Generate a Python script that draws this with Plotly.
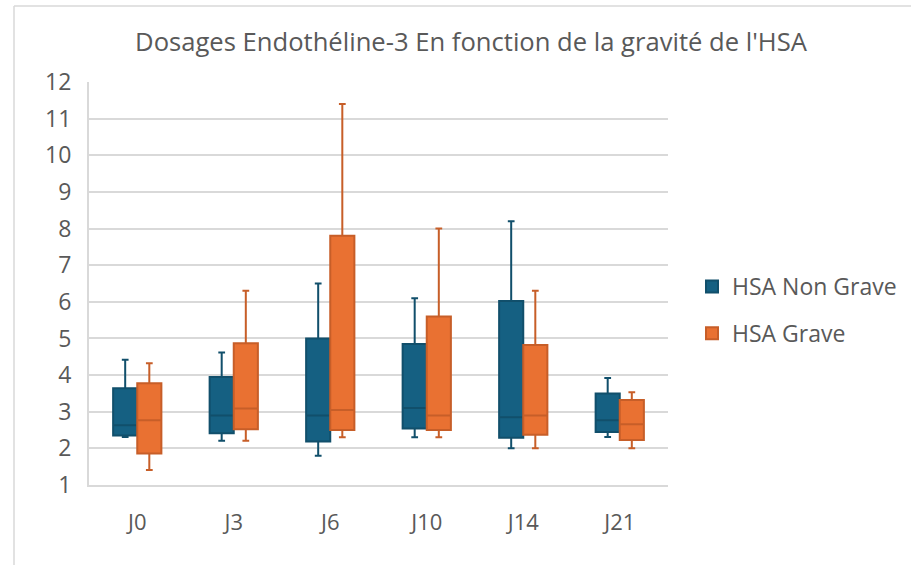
import plotly.graph_objects as go

categories = ["J0", "J3", "J6", "J10", "J14", "J21"]

# HSA Non Grave
ng_low = [2.31, 2.21, 1.80, 2.30, 2.00, 2.31]
ng_q1 = [2.35, 2.41, 2.19, 2.54, 2.29, 2.45]
ng_med = [2.63, 2.90, 2.90, 3.10, 2.85, 2.77]
ng_q3 = [3.64, 3.95, 5.00, 4.85, 6.02, 3.50]
ng_high = [4.42, 4.62, 6.50, 6.10, 8.20, 3.92]

# HSA Grave
g_low = [1.41, 2.21, 2.30, 2.30, 2.00, 2.00]
g_q1 = [1.86, 2.52, 2.50, 2.50, 2.37, 2.23]
g_med = [2.77, 3.09, 3.05, 2.90, 2.90, 2.66]
g_q3 = [3.78, 4.87, 7.80, 5.60, 4.82, 3.32]
g_high = [4.32, 6.30, 11.40, 8.00, 6.30, 3.53]

y_ticks = list(range(1, 13))

FONT = "Open Sans"
TXT = "#595959"
GRID = "#D9D9D9"

fig = go.Figure()
fig.add_trace(go.Box(
    name="HSA Non Grave", x=categories,
    lowerfence=ng_low, q1=ng_q1, median=ng_med, q3=ng_q3, upperfence=ng_high,
    fillcolor="#156082", line=dict(color="#114F6B", width=2),
    whiskerwidth=0.28, boxpoints=False, legendgroup="a",
))
fig.add_trace(go.Box(
    name="HSA Grave", x=categories,
    lowerfence=g_low, q1=g_q1, median=g_med, q3=g_q3, upperfence=g_high,
    fillcolor="#E97132", line=dict(color="#C75E28", width=2),
    whiskerwidth=0.28, boxpoints=False, legendgroup="b",
))

L, T, W, H = 89, 82, 579, 403

fig.update_layout(
    width=911, height=565,
    margin=dict(l=L, r=911 - L - W, t=T, b=565 - T - H, autoexpand=False),
    paper_bgcolor="white", plot_bgcolor="white",
    boxmode="group", boxgap=0.5, boxgroupgap=0.0,
    font=dict(family=FONT, color=TXT, size=22),
    title=dict(text="Dosages Endothéline-3 En fonction de la gravité de l'HSA",
               x=471 / 911, xref="container", xanchor="center",
               y=1 - 42 / 565, yref="container", yanchor="middle",
               font=dict(family=FONT, size=25.6, color=TXT)),
    showlegend=True,
    legend=dict(x=1 + 24 / W, xanchor="left", y=(485 - 310) / 403, yanchor="middle",
                traceorder="grouped", tracegroupgap=14,
                font=dict(family=FONT, size=23, color=TXT),
                bgcolor="rgba(0,0,0,0)"),
    xaxis=dict(showgrid=False, showline=True, linecolor=GRID, linewidth=2,
               ticks="", tickfont=dict(size=22, color=TXT),
               ticklabelstandoff=17, automargin=False, fixedrange=True),
    yaxis=dict(range=[1, 12], tickvals=y_ticks, showgrid=True, gridcolor=GRID,
               gridwidth=2, showline=True, linecolor=GRID, linewidth=2,
               zeroline=False, ticks="", tickfont=dict(size=23, color=TXT),
               ticklabelstandoff=11, automargin=False),
    shapes=[
        dict(type="line", xref="paper", yref="paper",
             x0=(14 - L) / W, x1=(915 - L) / W,
             y0=(T + H - 6) / H, y1=(T + H - 6) / H,
             line=dict(color=GRID, width=1.5), layer="below"),
        dict(type="line", xref="paper", yref="paper",
             x0=(14 - L) / W, x1=(14 - L) / W,
             y0=(T + H - 6) / H, y1=(T + H - 570) / H,
             line=dict(color=GRID, width=1.5), layer="below"),
    ],
)

fig.write_html("out.html", config={"displayModeBar": False},
               post_script="document.body.style.margin='0';")
